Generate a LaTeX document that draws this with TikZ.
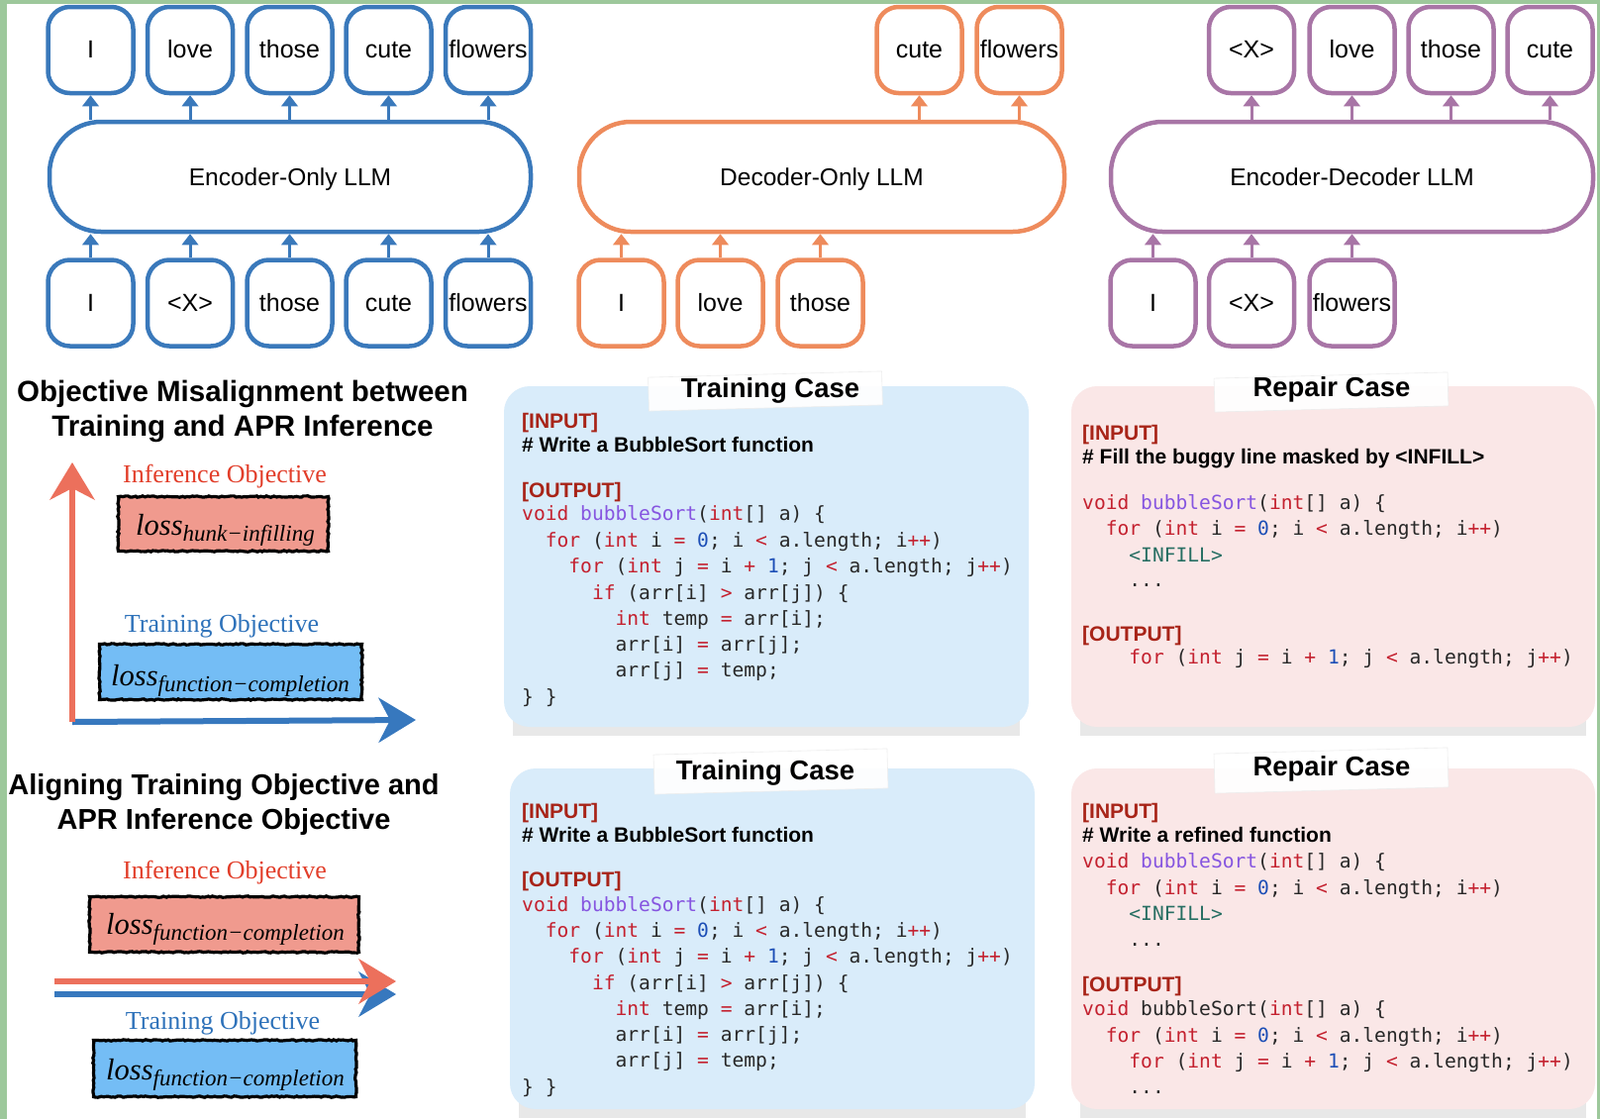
\documentclass[tikz,border=0pt]{standalone}
\usepackage{fontspec}
\setmainfont{Liberation Serif}
\setsansfont{Liberation Sans}
\setmonofont{DejaVu Sans Mono}
\usetikzlibrary{arrows.meta,decorations.pathmorphing}
\definecolor{encb}{RGB}{58,121,187}
\definecolor{deco}{RGB}{238,139,92}
\definecolor{edp}{RGB}{168,117,166}
\definecolor{frameg}{RGB}{157,200,155}
\definecolor{lossred}{RGB}{240,154,142}
\definecolor{lossblue}{RGB}{116,189,245}
\definecolor{infred}{RGB}{226,62,42}
\definecolor{trblue}{RGB}{46,114,186}
\definecolor{arrred}{RGB}{236,112,92}
\definecolor{arrblue}{RGB}{55,120,190}
\definecolor{panelblue}{RGB}{217,236,250}
\definecolor{panelpink}{RGB}{250,231,231}
\definecolor{ckwc}{RGB}{196,33,47}
\definecolor{cfnc}{RGB}{134,85,224}
\definecolor{cnumc}{RGB}{28,78,182}
\definecolor{cplain}{RGB}{40,40,40}
\definecolor{cinfc}{RGB}{38,110,98}
\definecolor{labred}{RGB}{168,36,24}
\newcommand\ckw[1]{\textcolor{ckwc}{#1}}
\newcommand\cfn[1]{\textcolor{cfnc}{#1}}
\newcommand\cnum[1]{\textcolor{cnumc}{#1}}
\newcommand\cinf[1]{\textcolor{cinfc}{#1}}
\newcommand\cdl[4]{\node[code] (#1) at (#2,#3) {#4};}
\newcommand\lossof[1]{\itshape\fontsize{30.5}{32}\selectfont loss\raisebox{-6.5pt}{\fontsize{23}{24}\selectfont #1}}
\begin{document}
\begin{tikzpicture}[x=1pt,y=-1pt,
  rough/.style={decorate,decoration={random steps,segment length=2.5pt,amplitude=0.7pt}},
  tok/.style={draw=#1,line width=4.5pt,rounded corners=22pt,minimum width=86pt,minimum height=87pt,inner sep=0pt,text height=18pt,text depth=2pt,font=\sffamily\fontsize{25}{28}\selectfont},
  llm/.style={draw=#1,line width=4.5pt,rounded corners=52pt,minimum height=111pt,inner sep=0pt,text height=17.5pt,text depth=0.5pt,font=\sffamily\fontsize{24.5}{28}\selectfont},
  up/.style={draw=#1,line width=3pt,-{Triangle[length=11pt,width=17pt,line width=0pt]}},
  bigarr/.style={draw=#1,line width=6pt,-{Stealth[length=38pt,width=46pt,inset=12pt,line width=0pt]}},
  head/.style={font=\sffamily\bfseries\fontsize{#1}{34}\selectfont,anchor=base,inner sep=0pt},
  objl/.style={font=\fontsize{26}{30}\selectfont,text=#1,anchor=base,inner sep=0pt},
  lossbox/.style={fill=#1,draw=black,line width=3.2pt,rough,inner sep=0pt},
  losst/.style={anchor=base west,inner sep=0pt},
  panel/.style={fill=#1,rounded corners=26pt,inner sep=0pt},
  shadowb/.style={fill=black!9},
  tape/.style={fill=white,fill opacity=0.93,draw=black!7,line width=0.6pt,inner sep=0pt},
  ttl/.style={font=\sffamily\bfseries\fontsize{27.5}{30}\selectfont,anchor=base,inner sep=0pt},
  lab/.style={font=\sffamily\bfseries\fontsize{21}{24}\selectfont,anchor=base west,inner sep=0pt,text=#1},
  code/.style={font=\ttfamily\fontsize{19.6}{24}\selectfont,anchor=base west,inner sep=0pt,text=cplain}
]
\useasboundingbox (0,0) rectangle (1616,1130);
\fill[white] (0,0) rectangle (1616,1130);
% frame
\fill[frameg] (0,0) rectangle (6.5,1130);
\fill[frameg] (0,0) rectangle (1616,3.5);
\fill[frameg] (1613,0) rectangle (1616,1130);

% ===== Encoder-only (blue)
\node[llm=encb,minimum width=486pt] (enc) at (293,178.5) {Encoder-Only LLM};
\node[tok=encb] (et1) at (91.5,50.5) {I};
\node[tok=encb] (et2) at (192,50.5) {love};
\node[tok=encb] (et3) at (292.5,50.5) {those};
\node[tok=encb] (et4) at (392.5,50.5) {cute};
\node[tok=encb] (et5) at (493,50.5) {flowers};
\node[tok=encb] (eb1) at (91.5,306) {I};
\node[tok=encb] (eb2) at (192,306) {<X>};
\node[tok=encb] (eb3) at (292.5,306) {those};
\node[tok=encb] (eb4) at (392.5,306) {cute};
\node[tok=encb] (eb5) at (493,306) {flowers};
\foreach \i in {1,...,5}{
  \draw[up=encb] (et\i.south |- enc.north) -- (et\i.south);
  \draw[up=encb] (eb\i.north) -- (eb\i.north |- enc.south);
}

% ===== Decoder-only (orange)
\node[llm=deco,minimum width=490pt] (dec) at (830,178.5) {Decoder-Only LLM};
\node[tok=deco] (dt1) at (928.5,50.5) {cute};
\node[tok=deco] (dt2) at (1029.5,50.5) {flowers};
\node[tok=deco] (db1) at (627.5,306) {I};
\node[tok=deco] (db2) at (727.5,306) {love};
\node[tok=deco] (db3) at (828.5,306) {those};
\foreach \i in {1,2}{\draw[up=deco] (dt\i.south |- dec.north) -- (dt\i.south);}
\foreach \i in {1,2,3}{\draw[up=deco] (db\i.north) -- (db\i.north |- dec.south);}

% ===== Encoder-decoder (purple)
\node[llm=edp,minimum width=487pt] (ed) at (1365.5,178.5) {Encoder-Decoder LLM};
\node[tok=edp] (pt1) at (1264,50.5) {<X>};
\node[tok=edp] (pt2) at (1365.5,50.5) {love};
\node[tok=edp] (pt3) at (1465.5,50.5) {those};
\node[tok=edp] (pt4) at (1565.5,50.5) {cute};
\node[tok=edp] (pb1) at (1164.5,306) {I};
\node[tok=edp] (pb2) at (1264,306) {<X>};
\node[tok=edp] (pb3) at (1365.5,306) {flowers};
\foreach \i in {1,...,4}{\draw[up=edp] (pt\i.south |- ed.north) -- (pt\i.south);}
\foreach \i in {1,2,3}{\draw[up=edp] (pb\i.north) -- (pb\i.north |- ed.south);}

% ===== Left: misalignment
\node[head=29.5] (h1a) at (245,405) {Objective Misalignment between};
\node[head=29.5] (h1b) at (245,440) {Training and APR Inference};
\coordinate (vo) at (73,729);
\coordinate (vt) at (73,467);
\coordinate (ht) at (420,727);
\draw[bigarr=arrblue] (vo) -- (ht);
\draw[bigarr=arrred] (vo) -- (vt);
\node[objl=infred] (io1) at (227,487) {Inference Objective};
\node[lossbox=lossred,minimum width=212pt,minimum height=55pt] (lb1) at (225.5,529) {};
\node[losst] (lt1) at (137,540) {\lossof{hunk−infilling}};
\node[objl=trblue] (to1) at (224,638) {Training Objective};
\node[lossbox=lossblue,minimum width=265pt,minimum height=56pt] (lb2) at (233,678.5) {};
\node[losst] (lt2) at (112,692) {\lossof{function−completion}};

% ===== Left: aligning
\node[head=29] (h2a) at (226,802) {Aligning Training Objective and};
\node[head=29] (h2b) at (226,837) {APR Inference Objective};
\node[objl=infred] (io2) at (227,887) {Inference Objective};
\node[lossbox=lossred,minimum width=272pt,minimum height=56pt] (lb3) at (226.5,933.5) {};
\node[losst] (lt3) at (107,943) {\lossof{function−completion}};
\coordinate (ab0) at (55,1004);
\coordinate (ab1) at (400,1004);
\coordinate (ar0) at (55,991);
\coordinate (ar1) at (400,991);
\draw[bigarr=arrblue] (ab0) -- (ab1);
\draw[bigarr=arrred] (ar0) -- (ar1);
\node[objl=trblue] (to2) at (225,1039) {Training Objective};
\node[lossbox=lossblue,minimum width=265pt,minimum height=57pt] (lb4) at (227,1079) {};
\node[losst] (lt4) at (107,1090) {\lossof{function−completion}};

% ===== Panels
\fill[shadowb] (518,725) rectangle (1030,743);
\fill[shadowb] (1091,725) rectangle (1602,743);
\fill[shadowb] (524,1111) rectangle (1036,1129);
\fill[shadowb] (1091,1111) rectangle (1602,1129);
\node[panel=panelblue,minimum width=530pt,minimum height=344pt] (p1) at (774,562) {};
\node[panel=panelpink,minimum width=529pt,minimum height=344pt] (p2) at (1346.5,562) {};
\node[panel=panelblue,minimum width=530pt,minimum height=344pt] (p3) at (780,948) {};
\node[panel=panelpink,minimum width=529pt,minimum height=344pt] (p4) at (1346.5,948) {};
\node[tape,minimum width=236pt,minimum height=34pt,rotate=1.5] (tp1) at (773,395) {};
\node[tape,minimum width=236pt,minimum height=34pt,rotate=1.5] (tp2) at (1344.5,396) {};
\node[tape,minimum width=236pt,minimum height=40pt,rotate=1.5] (tp3) at (778.5,779) {};
\node[tape,minimum width=236pt,minimum height=40pt,rotate=1.5] (tp4) at (1344.5,778) {};
\node[ttl] (tt1) at (778,401) {Training Case};
\node[ttl] (tt2) at (1345,400) {Repair Case};
\node[ttl] (tt3) at (773,787) {Training Case};
\node[ttl] (tt4) at (1345,783) {Repair Case};

% panel 1 (training, top)
\node[lab=labred] (a1) at (527,432) {[INPUT]};
\node[lab=black] (a2) at (527,456) {\# Write a BubbleSort function};
\node[lab=labred] (a3) at (527,502) {[OUTPUT]};
\cdl{a4}{527}{525}{\ckw{void} \cfn{bubbleSort}(\ckw{int}[] a) \{}
\cdl{a5}{550.6}{552}{\ckw{for} (\ckw{int} i \ckw{=} \cnum{0}; i \ckw{<} a.length; i\ckw{++})}
\cdl{a6}{574.2}{578}{\ckw{for} (\ckw{int} j \ckw{=} i \ckw{+} \cnum{1}; j \ckw{<} a.length; j\ckw{++})}
\cdl{a7}{597.8}{605}{\ckw{if} (arr[i] \ckw{>} arr[j]) \{}
\cdl{a8}{621.4}{631}{\ckw{int} temp \ckw{=} arr[i];}
\cdl{a9}{621.4}{657}{arr[i] \ckw{=} arr[j];}
\cdl{a10}{621.4}{683}{arr[j] \ckw{=} temp;}
\cdl{a11}{527}{710}{\} \}}

% panel 2 (repair, top)
\node[lab=labred] (b1) at (1093,444) {[INPUT]};
\node[lab=black] (b2) at (1093,468) {\# Fill the buggy line masked by <INFILL>};
\cdl{b3}{1093}{514}{\ckw{void} \cfn{bubbleSort}(\ckw{int}[] a) \{}
\cdl{b4}{1116.6}{540}{\ckw{for} (\ckw{int} i \ckw{=} \cnum{0}; i \ckw{<} a.length; i\ckw{++})}
\cdl{b5}{1140.2}{567}{\cinf{<INFILL>}}
\cdl{b6}{1140.2}{592}{...}
\node[lab=labred] (b7) at (1093,647) {[OUTPUT]};
\cdl{b8}{1140.2}{670}{\ckw{for} (\ckw{int} j \ckw{=} i \ckw{+} \cnum{1}; j \ckw{<} a.length; j\ckw{++})}

% panel 3 (training, bottom)
\node[lab=labred] (c1) at (527,826) {[INPUT]};
\node[lab=black] (c2) at (527,850) {\# Write a BubbleSort function};
\node[lab=labred] (c3) at (527,895) {[OUTPUT]};
\cdl{c4}{527}{920}{\ckw{void} \cfn{bubbleSort}(\ckw{int}[] a) \{}
\cdl{c5}{550.6}{946}{\ckw{for} (\ckw{int} i \ckw{=} \cnum{0}; i \ckw{<} a.length; i\ckw{++})}
\cdl{c6}{574.2}{972}{\ckw{for} (\ckw{int} j \ckw{=} i \ckw{+} \cnum{1}; j \ckw{<} a.length; j\ckw{++})}
\cdl{c7}{597.8}{999}{\ckw{if} (arr[i] \ckw{>} arr[j]) \{}
\cdl{c8}{621.4}{1025}{\ckw{int} temp \ckw{=} arr[i];}
\cdl{c9}{621.4}{1051}{arr[i] \ckw{=} arr[j];}
\cdl{c10}{621.4}{1077}{arr[j] \ckw{=} temp;}
\cdl{c11}{527}{1104}{\} \}}

% panel 4 (repair, bottom)
\node[lab=labred] (d1) at (1093,826) {[INPUT]};
\node[lab=black] (d2) at (1093,850) {\# Write a refined function};
\cdl{d3}{1093}{876}{\ckw{void} \cfn{bubbleSort}(\ckw{int}[] a) \{}
\cdl{d4}{1116.6}{903}{\ckw{for} (\ckw{int} i \ckw{=} \cnum{0}; i \ckw{<} a.length; i\ckw{++})}
\cdl{d5}{1140.2}{929}{\cinf{<INFILL>}}
\cdl{d6}{1140.2}{955}{...}
\node[lab=labred] (d7) at (1093,1001) {[OUTPUT]};
\cdl{d8}{1093}{1025}{\ckw{void} bubbleSort(\ckw{int}[] a) \{}
\cdl{d9}{1116.6}{1052}{\ckw{for} (\ckw{int} i \ckw{=} \cnum{0}; i \ckw{<} a.length; i\ckw{++})}
\cdl{d10}{1140.2}{1078}{\ckw{for} (\ckw{int} j \ckw{=} i \ckw{+} \cnum{1}; j \ckw{<} a.length; j\ckw{++})}
\cdl{d11}{1140.2}{1104}{...}
\end{tikzpicture}
\end{document}
